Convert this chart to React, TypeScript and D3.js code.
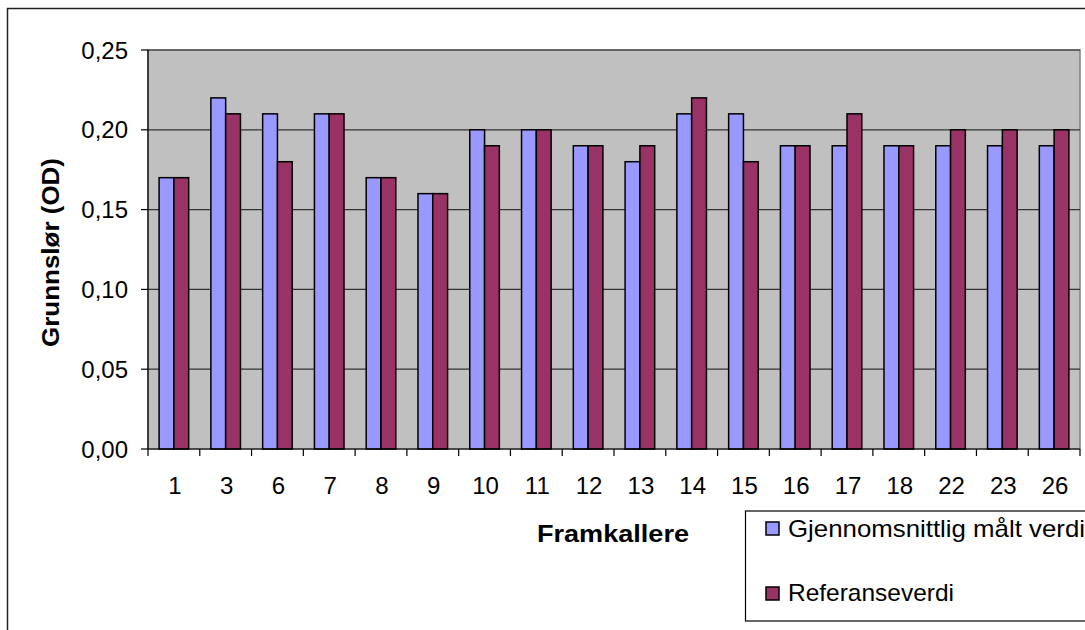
import React from "react";
import * as d3 from "d3";

// Developers (framkallere) and their base fog values
const categories = ["1", "3", "6", "7", "8", "9", "10", "11", "12", "13", "14", "15", "16", "17", "18", "22", "23", "26"];
const measured = [0.17, 0.22, 0.21, 0.21, 0.17, 0.16, 0.2, 0.2, 0.19, 0.18, 0.21, 0.21, 0.19, 0.19, 0.19, 0.19, 0.19, 0.19];
const reference = [0.17, 0.21, 0.18, 0.21, 0.17, 0.16, 0.19, 0.2, 0.19, 0.19, 0.22, 0.18, 0.19, 0.21, 0.19, 0.2, 0.2, 0.2];
const yTicks = [0, 0.05, 0.1, 0.15, 0.2, 0.25];
const seriesNames = ["Gjennomsnittlig målt verdi", "Referanseverdi"];
const seriesColors = ["#9999FF", "#993366"];

const W = 1085;
const H = 630;
const plot = { left: 148, top: 50, right: 1080, bottom: 449 };
const font = "'Liberation Sans', Arial, sans-serif";
const legendTextWidths = [297, 166];

export default function App() {
  const x = d3.scaleBand<string>().domain(categories).range([plot.left, plot.right]).paddingInner(0).paddingOuter(0);
  const y = d3.scaleLinear().domain([0, 0.25]).range([plot.bottom, plot.top]);
  const bw = x.bandwidth() / 3.5;
  const fmt = (v: number) => d3.format(".2f")(v).replace(".", ",");
  const series = [measured, reference];

  return (
    <svg width={W} height={H} style={{ position: "absolute", left: 0, top: 0, background: "#fff" }} fontFamily={font}>
      {/* chart frame */}
      <rect x={7.5} y={8.5} width={W + 20} height={H + 20} fill="#fff" stroke="#222" strokeWidth={1.5} />
      {/* plot area */}
      <rect x={plot.left} y={plot.top} width={plot.right - plot.left} height={plot.bottom - plot.top} fill="#C0C0C0" stroke="#808080" strokeWidth={1.5} />
      {yTicks.slice(1).map((t) => (
        <line key={t} x1={plot.left} x2={plot.right} y1={y(t)} y2={y(t)} stroke="#333" strokeWidth={1.2} />
      ))}
      {/* bars */}
      {categories.map((c, i) =>
        series.map((s, k) => (
          <rect
            key={c + k}
            x={(x(c) as number) + 0.75 * bw + k * bw}
            y={y(s[i])}
            width={bw}
            height={y(0) - y(s[i])}
            fill={seriesColors[k]}
            stroke="#000"
            strokeWidth={1.5}
          />
        ))
      )}
      {/* y axis */}
      <line x1={plot.left} x2={plot.left} y1={plot.top} y2={plot.bottom} stroke="#000" strokeWidth={1.2} />
      {yTicks.map((t) => (
        <g key={t}>
          <line x1={plot.left - 7} x2={plot.left} y1={y(t)} y2={y(t)} stroke="#000" strokeWidth={1.2} />
          <text x={128} y={y(t)} dy="0.36em" textAnchor="end" fontSize={24}>
            {fmt(t)}
          </text>
        </g>
      ))}
      {/* x axis */}
      <line x1={plot.left} x2={plot.right} y1={plot.bottom} y2={plot.bottom} stroke="#000" strokeWidth={1.2} />
      {categories.map((c) => (
        <line key={"t" + c} x1={x(c) as number} x2={x(c) as number} y1={plot.bottom} y2={plot.bottom + 7} stroke="#000" strokeWidth={1.2} />
      ))}
      <line x1={plot.right} x2={plot.right} y1={plot.bottom} y2={plot.bottom + 7} stroke="#000" strokeWidth={1.2} />
      {categories.map((c) => (
        <text key={"l" + c} x={(x(c) as number) + x.bandwidth() / 2 + 1} y={485} dy="0.36em" textAnchor="middle" fontSize={24}>
          {c}
        </text>
      ))}
      {/* axis titles */}
      <text x={537} y={533} dy="0.36em" fontSize={24} fontWeight="bold" textLength={152} lengthAdjust="spacingAndGlyphs">
        Framkallere
      </text>
      <text transform={`translate(50,347) rotate(-90)`} dy="0.36em" fontSize={24} fontWeight="bold" textLength={189} lengthAdjust="spacingAndGlyphs">
        Grunnslør (OD)
      </text>
      {/* legend */}
      <rect x={745.5} y={511} width={400} height={110} fill="#fff" stroke="#000" strokeWidth={1.2} />
      {seriesNames.map((n, k) => (
        <g key={n}>
          <rect x={766} y={[522, 587][k]} width={13} height={13} fill={seriesColors[k]} stroke="#000" strokeWidth={1.5} />
          <text x={788} y={[528, 592][k]} dy="0.36em" fontSize={24} textLength={legendTextWidths[k]} lengthAdjust="spacingAndGlyphs">
            {n}
          </text>
        </g>
      ))}
    </svg>
  );
}
